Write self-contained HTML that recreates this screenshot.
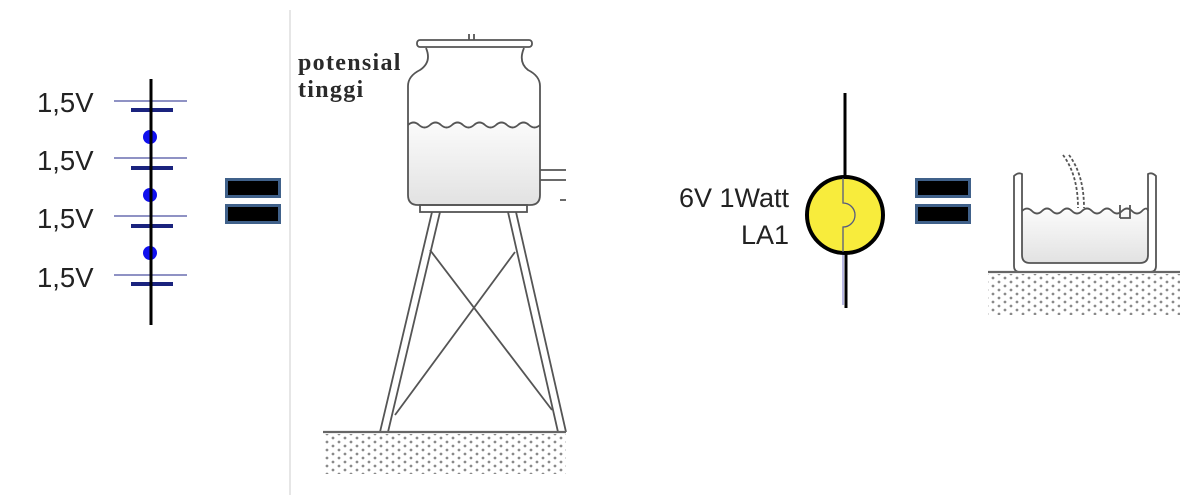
<!DOCTYPE html>
<html><head><meta charset="utf-8"><style>
html,body{margin:0;padding:0;background:#fff;}
svg{display:block;}
</style></head><body>
<svg width="1196" height="504" viewBox="0 0 1196 504" xmlns="http://www.w3.org/2000/svg">
<defs>
<pattern id="dots" width="12" height="8" patternUnits="userSpaceOnUse">
<circle cx="3" cy="2" r="1.4" fill="#8a8a8a"/>
<circle cx="9" cy="6" r="1.4" fill="#8a8a8a"/>
</pattern>
<linearGradient id="wat" x1="0" y1="0" x2="0" y2="1">
<stop offset="0" stop-color="#fafafa"/><stop offset="1" stop-color="#e2e2e2"/>
</linearGradient>
</defs>

<g font-family="Liberation Sans, sans-serif" font-size="27.5" fill="#222">
<text x="37" y="112">1,5V</text>
<text x="37" y="170">1,5V</text>
<text x="37" y="228">1,5V</text>
<text x="37" y="287">1,5V</text>
</g>
<g stroke="#6a6fb0" stroke-width="1.5">
<line x1="114" y1="101" x2="187" y2="101"/>
<line x1="114" y1="158" x2="187" y2="158"/>
<line x1="114" y1="216" x2="187" y2="216"/>
<line x1="114" y1="275" x2="187" y2="275"/>
</g>
<g stroke="#1a237e" stroke-width="4">
<line x1="131" y1="110" x2="173" y2="110"/>
<line x1="131" y1="168" x2="173" y2="168"/>
<line x1="131" y1="226" x2="173" y2="226"/>
<line x1="131" y1="284" x2="173" y2="284"/>
</g>
<g fill="#1010ee">
<circle cx="150" cy="137" r="7"/>
<circle cx="150" cy="195" r="7"/>
<circle cx="150" cy="253" r="7"/>
</g>
<line x1="151" y1="79" x2="151" y2="325" stroke="#000" stroke-width="3"/>

<rect x="226.5" y="179.5" width="53" height="17" fill="#000" stroke="#40618a" stroke-width="3"/>
<rect x="226.5" y="205.5" width="53" height="17" fill="#000" stroke="#40618a" stroke-width="3"/>

<line x1="290" y1="10" x2="290" y2="495" stroke="#e6e6e6" stroke-width="2"/>

<g font-family="Liberation Serif, serif" font-size="24" font-weight="bold" fill="#2a2a2a" letter-spacing="1.3">
<text x="298" y="70">potensial</text>
<text x="298" y="97">tinggi</text>
</g>

<g stroke="#555" stroke-width="1.8" fill="none">
<path d="M408 125 L540 125 L540 195 Q540 205 530 205 L418 205 Q408 205 408 195 Z" fill="url(#wat)" stroke="none"/>
<path d="M426 48 Q432 62 420 70 Q408 76 408 86 L408 195 Q408 205 418 205 L530 205 Q540 205 540 195 L540 86 Q540 76 528 70 Q518 62 524 48"/>
<rect x="417" y="40" width="115" height="7" rx="3"/>
<path d="M469 40 V34 M474 40 V34"/>
<path d="M408 125 q5.5 -5 11 0 t11 0 t11 0 t11 0 t11 0 t11 0 t11 0 t11 0 t11 0 t11 0 t11 0 t11 0"/>
<rect x="420" y="205" width="107" height="7"/>
<path d="M540 170 H566 M540 180 H566 M560 200 H566"/>
<path d="M432 212 L380 432 M440 212 L388 432"/>
<path d="M508 212 L558 432 M516 212 L566 432"/>
<path d="M430 250 L552 410 M515 252 L395 415"/>
<line x1="323" y1="432" x2="566" y2="432" stroke="#666" stroke-width="2.2"/>
</g>
<rect x="323" y="434" width="243" height="40" fill="url(#dots)"/>

<line x1="845" y1="93" x2="845" y2="180" stroke="#000" stroke-width="3"/>
<line x1="846" y1="250" x2="846" y2="308" stroke="#000" stroke-width="3"/>
<line x1="843" y1="250" x2="843" y2="305" stroke="#8a8ad0" stroke-width="1.2"/>
<circle cx="845" cy="215" r="38" fill="#f8ec3c" stroke="#000" stroke-width="4"/>
<path d="M843 178 V203 A12 12 0 0 1 843 227 V252" stroke="#555a80" stroke-width="1.3" fill="none"/>
<g font-family="Liberation Sans, sans-serif" font-size="27" fill="#222" text-anchor="end">
<text x="789" y="207">6V 1Watt</text>
<text x="789" y="244">LA1</text>
</g>

<rect x="916.5" y="179.5" width="53" height="17" fill="#000" stroke="#40618a" stroke-width="3"/>
<rect x="916.5" y="205.5" width="53" height="17" fill="#000" stroke="#40618a" stroke-width="3"/>

<g stroke="#555" stroke-width="1.8" fill="none">
<path d="M1022 211 L1148 211 L1148 255 Q1148 263 1140 263 L1030 263 Q1022 263 1022 255 Z" fill="url(#wat)" stroke="none"/>
<path d="M1014 176 Q1018 172 1022 174 L1022 255 Q1022 263 1030 263 L1140 263 Q1148 263 1148 255 L1148 174 Q1152 172 1156 176 L1156 266 Q1156 272 1150 272 L1020 272 Q1014 272 1014 266 Z"/>
<path d="M1022 211 q5 -5 10 0 t10 0 t10 0 t10 0 t10 0 t10 0 t10 0 t10 0 t10 0 t10 0 t10 0 t10 0 t6 0"/>
<path d="M1120 218 H1130 V205 M1120 218 V205"/>
<path d="M1063 155 Q1078 175 1078 208" stroke-dasharray="3 2"/>
<path d="M1069 155 Q1084 175 1084 208" stroke-dasharray="3 2"/>
<line x1="988" y1="272" x2="1180" y2="272" stroke="#666" stroke-width="2.2"/>
</g>
<rect x="988" y="274" width="192" height="41" fill="url(#dots)"/>
</svg>
</body></html>
